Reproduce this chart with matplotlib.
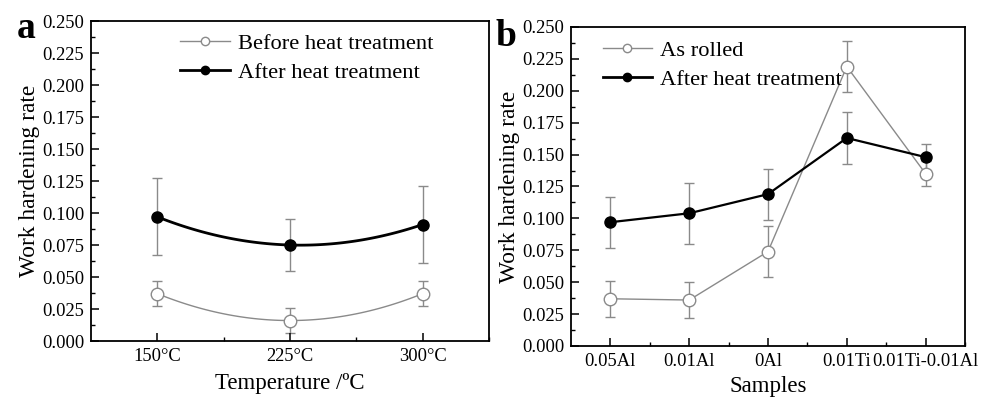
import numpy as np
import matplotlib.pyplot as plt
from matplotlib.ticker import MultipleLocator, FixedLocator

plt.rcParams['font.family'] = ['Liberation Serif', 'DejaVu Serif']

# Panel a data: temperature series
temps = ['150°C', '225°C', '300°C']
before_ht = [0.037, 0.016, 0.037]
before_err = [0.010, 0.010, 0.010]
after_ht_a = [0.097, 0.075, 0.091]
after_err_a = [0.030, 0.020, 0.030]

# Panel b data: sample series
samples = ['0.05Al', '0.01Al', '0Al', '0.01Ti', '0.01Ti-0.01Al']
as_rolled = [0.037, 0.036, 0.074, 0.219, 0.135]
as_rolled_err = [0.014, 0.014, 0.020, 0.020, 0.010]
after_ht_b = [0.097, 0.104, 0.119, 0.163, 0.148]
after_err_b = [0.020, 0.024, 0.020, 0.020, 0.010]

gray = '#8a8a8a'

fig = plt.figure(figsize=(9.85, 3.98), dpi=100)
ax_a = fig.add_axes([0.0924, 0.1432, 0.404, 0.8040])
ax_b = fig.add_axes([0.5797, 0.1307, 0.400, 0.8015])


def style_axis(ax, n):
    ax.set_xlim(0.5, n + 0.5)
    ax.set_ylim(0, 0.25)
    ax.yaxis.set_major_locator(MultipleLocator(0.025))
    ax.yaxis.set_minor_locator(MultipleLocator(0.0125))
    ax.xaxis.set_major_locator(FixedLocator(np.arange(1, n + 1)))
    ax.xaxis.set_minor_locator(FixedLocator(np.arange(1, n + 1) + 0.5))
    ax.yaxis.set_major_formatter(plt.FuncFormatter(lambda v, p: f'{v:.3f}'))
    ax.tick_params(which='major', direction='in', length=6, width=1.1, labelsize=13.3, pad=5)
    ax.tick_params(which='minor', direction='in', length=3, width=1.0)
    ax.tick_params(top=False, right=False, which='both')
    for s in ax.spines.values():
        s.set_linewidth(1.3)
    ax.set_ylabel('Work hardening rate', fontsize=16.8)
    ax.yaxis.set_label_coords(-0.129, 0.5)


# ---- panel a ----
xa = np.arange(1, len(temps) + 1)
xs = np.linspace(1, len(temps), 100)
for vals, lw, col in [(before_ht, 1.0, gray), (after_ht_a, 2.0, 'black')]:
    coef = np.polyfit(xa, vals, 2)
    ax_a.plot(xs, np.polyval(coef, xs), color=col, lw=lw, zorder=2)
ax_a.errorbar(xa, before_ht, yerr=before_err, fmt='none', ecolor=gray, elinewidth=1.0,
              capsize=3.5, capthick=1.0, zorder=1)
ax_a.errorbar(xa, after_ht_a, yerr=after_err_a, fmt='none', ecolor=gray, elinewidth=1.0,
              capsize=3.5, capthick=1.0, zorder=1)
ax_a.plot(xa, before_ht, 'o', ms=9, mfc='white', mec=gray, mew=1.0, zorder=3)
ax_a.plot(xa, after_ht_a, 'o', ms=8, mfc='black', mec='black', zorder=3)
# legend handles
h1, = ax_a.plot([], [], '-o', color=gray, lw=1.0, ms=6, mfc='white', mec=gray)
h2, = ax_a.plot([], [], '-o', color='black', lw=2.0, ms=6, mfc='black')
ax_a.legend([h1, h2], ['Before heat treatment', 'After heat treatment'], loc='upper left',
            bbox_to_anchor=(0.185, 1.01), frameon=False, fontsize=16.2, handlelength=2.2,
            handletextpad=0.35, labelspacing=0.35, borderaxespad=0.3)
style_axis(ax_a, len(temps))
ax_a.set_xticklabels(temps)
ax_a.set_xlabel('Temperature /ºC', fontsize=16.5, labelpad=6)
fig.text(0.017, 0.905, 'a', fontsize=27, fontweight='bold')

# ---- panel b ----
xb = np.arange(1, len(samples) + 1)
ax_b.errorbar(xb, as_rolled, yerr=as_rolled_err, color=gray, lw=1.0, ecolor=gray,
              elinewidth=1.0, capsize=3.5, capthick=1.0, fmt='-', zorder=1)
ax_b.errorbar(xb, after_ht_b, yerr=after_err_b, fmt='none', ecolor=gray, elinewidth=1.0,
              capsize=3.5, capthick=1.0, zorder=1)
ax_b.plot(xb, after_ht_b, '-', color='black', lw=1.6, zorder=2)
ax_b.plot(xb, as_rolled, 'o', ms=9, mfc='white', mec=gray, mew=1.0, zorder=3)
ax_b.plot(xb, after_ht_b, 'o', ms=8, mfc='black', mec='black', zorder=3)
g1, = ax_b.plot([], [], '-o', color=gray, lw=1.0, ms=6, mfc='white', mec=gray)
g2, = ax_b.plot([], [], '-o', color='black', lw=2.0, ms=6, mfc='black')
ax_b.legend([g1, g2], ['As rolled', 'After heat treatment'], loc='upper left',
            bbox_to_anchor=(0.04, 1.008), frameon=False, fontsize=16.2, handlelength=2.2,
            handletextpad=0.35, labelspacing=0.35, borderaxespad=0.3)
style_axis(ax_b, len(samples))
ax_b.set_xticklabels(samples)
ax_b.set_xlabel('Samples', fontsize=16.5, labelpad=4.5)
fig.text(0.503, 0.885, 'b', fontsize=27, fontweight='bold')

fig.savefig('out.png', dpi=100)
